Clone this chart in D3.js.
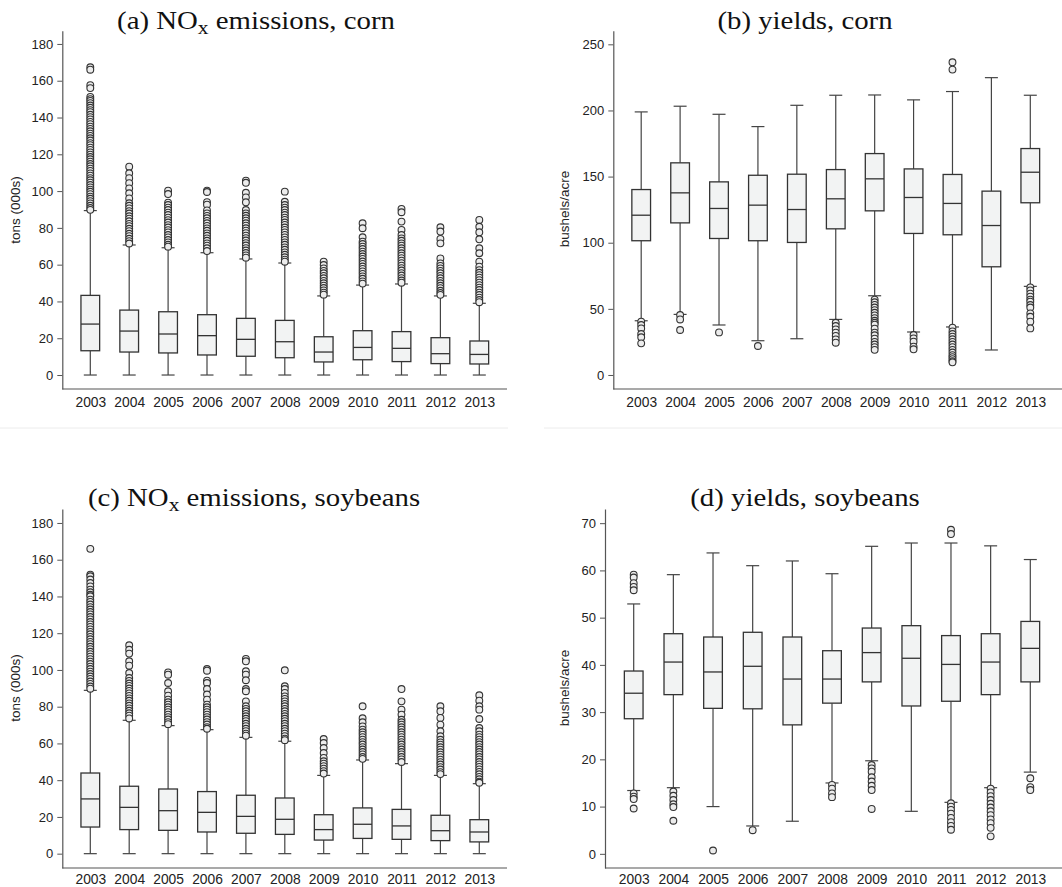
<html>
<head>
<script src="https://cdn.jsdelivr.net/npm/d3@7"></script>
<style>
  body { margin: 0; background: #fff; }
  .tick text { font-family: "Liberation Sans", Arial, sans-serif; font-size: 13px; fill: #222; }
  .xax .tick text { font-size: 13.8px; }
  .tick line { stroke: #555; }
  .title { font-family: "Liberation Serif", "Times New Roman", serif; font-size: 25.5px; fill: #111; }
  .ylabel { font-family: "Liberation Sans", Arial, sans-serif; font-size: 13.5px; fill: #222; }
</style>
</head>
<body>
<svg id="fig" width="1062" height="887"></svg>
<script>
// years on the x axis
const years = ["2003","2004","2005","2006","2007","2008","2009","2010","2011","2012","2013"];

// (a) NOx emissions, corn  -- tons (000s)
const noxCornLow = [0,0,0,0,0,0,0,0,0,0,0];
const noxCornQ1  = [13.2,12.5,12,10.9,10.2,9.4,7.1,8.3,7.3,6.2,6];
const noxCornMed = [27.7,23.9,22.3,21.4,19.4,18.1,12.5,15,14.5,11.6,11.2];
const noxCornQ3  = [43.3,35.3,34.4,32.8,30.8,29.7,20.8,24.1,23.6,20.3,18.5];
const noxCornHigh = [89.4,70.7,69.2,66.5,63.1,60.9,43,48.9,49.5,43,39];
const noxCornOut = [
  [167.3,166,157.6,156,151.2,150,149,147.8,146.5,145.3,144,142.9,141.5,140.2,139,137.6,136.4,135,133.8,132.5,131.2,130,128.7,127.5,126.1,125,123.6,122.4,121,119.8,118.5,117.3,116,114.7,113.5,112.2,111,109.6,108.4,107,105.9,104.6,103.3,102,100.8,99.6,98.3,97,95.8,94.5,93.3,92,90.8,89.8],
  [113.3,109.7,107,104.3,101.5,98.8,96,93.4,92,90.6,89.1,87.8,86.3,85,83.6,82.2,80.9,79.5,78.2,76.8,75.5,74.1,72.8,71.5],
  [100.2,98.4,93.7,92.4,91,89.7,88.3,87,85.6,84.2,82.9,81.5,80.2,78.8,77.5,76.1,74.8,73.4,72.1,70.8,69.8],
  [100.2,99.5,94,92.6,89.5,87.9,86.5,85.2,83.8,82.5,81.1,79.7,78.4,77,75.7,74.3,73,71.6,70.3,68.9,67.4],
  [105.7,104.5,99.1,96.6,93.9,89.7,87.9,86.6,85.2,83.9,82.5,81.2,79.8,78.5,77.1,75.8,74.4,73.1,71.7,70.4,69,67.7,66.3,65,63.8],
  [99.7,94.2,92.4,91,89.7,88.3,87,85.6,84.3,82.9,81.6,80.2,78.9,77.5,76.2,74.8,73.5,72.1,70.8,69.4,68.1,66.7,65.4,64,62.7,61.6],
  [61.6,59.8,58,56.6,55.3,53.9,52.6,51.2,49.9,48.6,47.3,46,44.8,43.7],
  [82.5,79.8,74.9,72.5,71.2,69.8,68.5,67.1,65.8,64.4,63.1,61.7,60.4,59,57.7,56.3,55,53.6,52.3,50.9,49.7],
  [90.3,88.5,83.4,78.9,76.1,74.3,73,71.6,70.3,68.9,67.6,66.2,64.9,63.5,62.2,60.8,59.5,58.1,56.8,55.4,54.1,52.7,51.4,50.2],
  [80.3,78,74,71.6,63.4,60.7,59.3,58,56.6,55.3,53.9,52.6,51.2,49.9,48.5,47.2,45.8,44.6,43.6],
  [84.3,80.6,77.6,73.8,68.9,66.2,61.6,58.9,57,55.6,54.3,52.9,51.6,50.2,48.9,47.5,46.2,44.8,43.5,42.1,40.8,39.6]
];

// (b) yields, corn -- bushels/acre
const yieldCornLow = [41,45.8,37.8,25.9,27.4,42,59.9,32.5,36.3,18.9,67];
const yieldCornQ1  = [101.5,115,103.2,101.5,100.2,110.5,124.1,107,106,81.8,130.2];
const yieldCornMed = [120.8,137.7,125.9,128.4,125.1,133.2,148.3,134.2,129.7,113,153.3];
const yieldCornQ3  = [140.2,160.4,146,151,151.8,155.3,167.4,155.8,151.6,139,171.2];
const yieldCornHigh = [198.9,203.2,197.1,187.8,203.9,211.5,211.7,208,214.3,224.8,211.5];
const yieldCornOut = [
  [40.3,37.8,35.2,31,28.5,23.9],
  [45.3,42,34],
  [32.2],
  [21.9],
  [],
  [39.5,37,34.5,32,29.5,26.9,24.4],
  [57,55,53,51,49,47,45,43,41,39.5,38,35,32,30,27.5,25,23,21,19],
  [30.2,27.7,25.2,21.4,19.4],
  [236.4,230.9,35.8,33,31,29,27,25,23,21,19,17,15,13.5,12,10.5,9.6],
  [],
  [66.2,64,61.5,59.2,57,55.4,52.9,51,46.6,44,40.3,35.2]
];

// (c) NOx emissions, soybeans -- tons (000s)
const noxSoyLow = [0,0,0,0,0,0,0,0,0,0,0];
const noxSoyQ1  = [14.5,13.1,12.7,11.8,11.1,10.5,7.4,8.3,7.8,7.1,6.4];
const noxSoyMed = [29.8,25.2,23.4,22.5,20.3,18.7,13.1,16,15.1,12.5,11.8];
const noxSoyQ3  = [43.9,36.7,35.2,33.8,31.8,30.3,21.2,24.9,24.1,20.9,18.5];
const noxSoyHigh = [88.9,72.6,69.7,67.5,63.3,61.2,42.6,51,49,42.6,38.1];
const noxSoyOut = [
  [165.9,151.9,151,149.2,147.3,145.5,143.7,142.3,140.9,140.1,138.3,137,135.6,134.2,132.9,131.5,130.2,128.8,127.5,126.1,124.8,123.4,122.1,120.7,119.4,118,116.7,115.3,114,112.6,111.3,109.9,108.6,107.2,105.9,104.5,103.2,101.8,100.5,99.1,97.8,96.4,95.1,93.7,92.4,91,89.8],
  [113.4,111,108.9,104.7,102.3,98.3,95.6,94,92.6,91.3,89.9,88.6,87.2,85.9,84.5,83.2,81.8,80.5,79.1,77.8,76.4,75.1,73.6],
  [98.7,97.4,92.9,88.4,86,83.8,82.4,81.1,79.7,78.4,77,75.7,74.3,73,71.6,70.5],
  [100.5,99.6,94.2,92.9,89.6,86.6,83.8,81.1,79.7,78.4,77,75.7,74.3,73,71.6,70.3,68.9,68],
  [106,104.7,99.3,97.4,94.4,89.6,88.4,82.9,80.2,78.8,77.5,76.1,74.8,73.4,72.1,70.7,69.4,68,66.7,65.3,64.2],
  [99.8,91.1,89.6,87.5,85.6,84.2,82.9,81.5,80.2,78.8,77.5,76.1,74.8,73.4,72.1,70.7,69.4,68,66.7,65.3,64,62.6,61.8],
  [62.4,60.2,57.5,54.8,52.1,50.3,49,47.6,46.3,44.9,43.6],
  [80.2,73.7,71.5,69.3,67.5,66.1,64.8,63.4,62.1,60.7,59.4,58,56.7,55.3,54,52.6,51.6],
  [89.6,82.9,78.4,75.7,72.9,71.5,70.2,68.8,67.5,66.1,64.8,63.4,62.1,60.7,59.4,58,56.7,55.3,54,52.6,51.3,49.9],
  [80.2,77.5,73.9,70.2,66.6,63.9,62,60.6,59.3,57.9,56.6,55.2,53.9,52.5,51.2,49.8,48.5,47.1,45.8,44.4,43.3],
  [86.2,83.3,80.2,78.4,73.3,68.4,66.6,64.8,63.4,62.1,60.7,59.4,58,56.7,55.3,54,52.6,51.3,49.9,48.6,47.2,45.9,44.5,43.2,41.8,40.5,39.2,38.6]
];

// (d) yields, soybeans -- bushels/acre
const yieldSoyLow = [13.4,14,10,5.9,6.9,15,19.7,9,10.9,14,17.3];
const yieldSoyQ1  = [28.6,33.7,30.8,30.7,27.3,31.9,36.4,31.3,32.3,33.7,36.4];
const yieldSoyMed = [34,40.6,38.5,39.7,37,37,42.6,41.4,40.1,40.6,43.5];
const yieldSoyQ3  = [38.7,46.6,45.9,46.9,45.9,43,47.8,48.3,46.2,46.6,49.2];
const yieldSoyHigh = [52.9,59.1,63.7,61,62,59.3,65.1,65.8,65.8,65.2,62.3];
const yieldSoyOut = [
  [59.1,58.5,57.3,56.5,55.8,12.8,12.1,11.6,9.6],
  [13.2,12.3,11.4,10.5,9.9,7],
  [0.7],
  [5],
  [],
  [14.6,13.8,12.8,12],
  [18.8,18.1,17.4,16.2,15.3,14.4,13.5,9.5],
  [],
  [68.6,67.7,10.7,10,9.3,8.5,7.6,6.7,5.9,5.1],
  [13.8,13,12.2,11.4,10.6,9.8,9,8.2,7.3,6.5,5.5,3.7],
  [16,14.1,13.5]
];

const svg = d3.select("#fig");

function drawPanel(p) {
  const g = svg.append("g");
  const x = d3.scalePoint().domain(years).range(p.xRange);
  const y = d3.scaleLinear().domain(p.yDomain).range([p.yBottom, p.yTop]);

  // y axis
  const yAxis = d3.axisLeft(y).tickValues(p.ticks).tickSize(5).tickSizeOuter(0).tickPadding(4);
  const ya = g.append("g").attr("transform", `translate(${p.axisX},0)`).call(yAxis);
  ya.select(".domain").attr("stroke", "#555").attr("stroke-width", 1.2);

  // x axis line + labels
  g.append("line").attr("x1", p.axisX).attr("x2", p.xEnd)
    .attr("y1", p.yBottom).attr("y2", p.yBottom)
    .attr("stroke", "#555").attr("stroke-width", 1.2);
  const xa = g.append("g").attr("class", "xax").attr("transform", `translate(0,${p.yBottom})`)
    .call(d3.axisBottom(x).tickSize(0).tickPadding(p.labelPad));
  xa.select(".domain").remove();

  // boxes
  const bw = 18.7, cw = 13;
  const rows = years.map((yr, i) => ({
    yr: yr, lo: p.low[i], q1: p.q1[i], med: p.med[i], q3: p.q3[i], hi: p.high[i], out: p.out[i]
  }));
  const box = g.selectAll(".box").data(rows).join("g").attr("class", "box");

  box.append("line").attr("x1", d => x(d.yr)).attr("x2", d => x(d.yr))
    .attr("y1", d => y(d.lo)).attr("y2", d => y(d.q1)).attr("stroke", "#444").attr("stroke-width", 1.2);
  box.append("line").attr("x1", d => x(d.yr)).attr("x2", d => x(d.yr))
    .attr("y1", d => y(d.q3)).attr("y2", d => y(d.hi)).attr("stroke", "#444").attr("stroke-width", 1.2);
  box.append("line").attr("x1", d => x(d.yr) - cw / 2).attr("x2", d => x(d.yr) + cw / 2)
    .attr("y1", d => y(d.lo)).attr("y2", d => y(d.lo)).attr("stroke", "#444").attr("stroke-width", 1.2);
  box.append("line").attr("x1", d => x(d.yr) - cw / 2).attr("x2", d => x(d.yr) + cw / 2)
    .attr("y1", d => y(d.hi)).attr("y2", d => y(d.hi)).attr("stroke", "#444").attr("stroke-width", 1.2);

  box.selectAll("circle").data(d => d.out.map(v => ({ yr: d.yr, v: v }))).join("circle")
    .attr("cx", d => x(d.yr)).attr("cy", d => y(d.v)).attr("r", 3.4)
    .attr("fill", "#ececec").attr("stroke", "#333").attr("stroke-width", 1.1);

  box.append("rect").attr("x", d => x(d.yr) - bw / 2).attr("width", bw)
    .attr("y", d => y(d.q3)).attr("height", d => y(d.q1) - y(d.q3))
    .attr("fill", "#f2f3f3").attr("stroke", "#333").attr("stroke-width", 1.3);
  box.append("line").attr("x1", d => x(d.yr) - bw / 2).attr("x2", d => x(d.yr) + bw / 2)
    .attr("y1", d => y(d.med)).attr("y2", d => y(d.med)).attr("stroke", "#333").attr("stroke-width", 1.3);

  // title
  const t = g.append("text").attr("class", "title").attr("text-anchor", "middle")
    .attr("transform", `translate(${p.titleX},${p.titleY}) scale(1.13,1)`);
  p.title.forEach(part => {
    const ts = t.append("tspan").text(part.s);
    if (part.sub) ts.attr("font-size", "19px").attr("dy", 5);
    if (part.after) ts.attr("dy", -5);
  });

  // y label
  g.append("text").attr("class", "ylabel").attr("text-anchor", "middle")
    .attr("transform", `translate(${p.labelX},${p.labelY}) rotate(-90)`).text(p.ylabel);

  // faint separator
  if (p.sep) {
    g.append("line").attr("x1", p.sep[0]).attr("x2", p.sep[1]).attr("y1", 428).attr("y2", 428)
      .attr("stroke", "#ececec").attr("stroke-width", 1);
  }
}

drawPanel({
  low: noxCornLow, q1: noxCornQ1, med: noxCornMed, q3: noxCornQ3, high: noxCornHigh, out: noxCornOut,
  xRange: [90.3, 479.3], axisX: 62.3, xEnd: 507, yTop: 30.7, yBottom: 389, yDomain: [-7.6, 187.2],
  ticks: [0,20,40,60,80,100,120,140,160,180], labelPad: 8,
  title: [{ s: "(a) NO" }, { s: "x", sub: true }, { s: " emissions, corn", after: true }],
  titleX: 256, titleY: 29, ylabel: "tons (000s)", labelX: 20, labelY: 210, sep: [0, 508]
});
drawPanel({
  low: yieldCornLow, q1: yieldCornQ1, med: yieldCornMed, q3: yieldCornQ3, high: yieldCornHigh, out: yieldCornOut,
  xRange: [641.2, 1030.3], axisX: 613.3, xEnd: 1062, yTop: 30.7, yBottom: 389, yDomain: [-10.6, 260.3],
  ticks: [0,50,100,150,200,250], labelPad: 8,
  title: [{ s: "(b) yields, corn" }],
  titleX: 805, titleY: 29, ylabel: "bushels/acre", labelX: 569, labelY: 209, sep: [544, 1062]
});
drawPanel({
  low: noxSoyLow, q1: noxSoyQ1, med: noxSoyMed, q3: noxSoyQ3, high: noxSoyHigh, out: noxSoyOut,
  xRange: [90.3, 479.3], axisX: 62.3, xEnd: 507, yTop: 509, yBottom: 868, yDomain: [-7.8, 187.6],
  ticks: [0,20,40,60,80,100,120,140,160,180], labelPad: 6,
  title: [{ s: "(c) NO" }, { s: "x", sub: true }, { s: " emissions, soybeans", after: true }],
  titleX: 254, titleY: 506, ylabel: "tons (000s)", labelX: 20, labelY: 688
});
drawPanel({
  low: yieldSoyLow, q1: yieldSoyQ1, med: yieldSoyMed, q3: yieldSoyQ3, high: yieldSoyHigh, out: yieldSoyOut,
  xRange: [633.7, 1030.3], axisX: 605, xEnd: 1062, yTop: 509, yBottom: 868, yDomain: [-3, 73],
  ticks: [0,10,20,30,40,50,60,70], labelPad: 6,
  title: [{ s: "(d) yields, soybeans" }],
  titleX: 805, titleY: 506, ylabel: "bushels/acre", labelX: 569, labelY: 688
});
</script>
</body>
</html>
